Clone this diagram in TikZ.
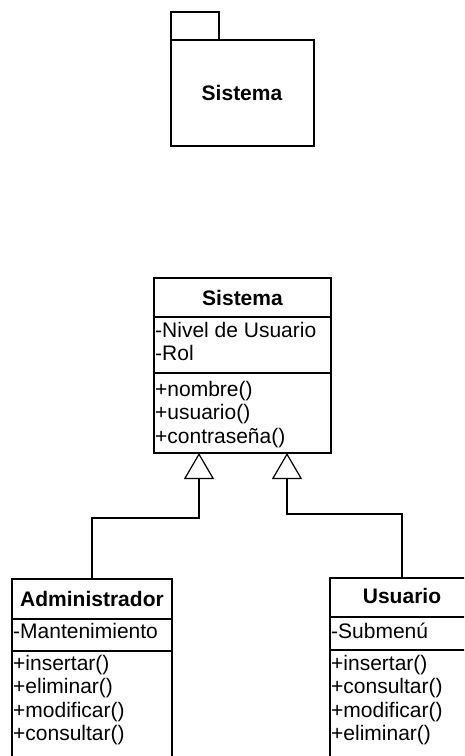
\documentclass[tikz,border=0pt]{standalone}
\usepackage{fontspec}
\setmainfont{Liberation Sans}
\usetikzlibrary{arrows.meta}
\tikzset{
  box/.style={draw, line width=1.3pt, inner sep=0pt, outer sep=0pt},
  txt/.style={inner sep=0pt, anchor=base west, font=\fontsize{21}{23.5}\selectfont},
  ttl/.style={inner sep=0pt, anchor=base, font=\fontsize{21}{23.5}\selectfont\bfseries},
  ln/.style={line width=1.3pt},
  gen/.style={line width=1.2pt, -{Triangle[open, length=26pt, width=30pt, line width=1.2pt]}}
}
\begin{document}
\begin{tikzpicture}[x=1pt, y=-1pt]
\useasboundingbox (0,0) rectangle (464,756);
\clip (0,0) rectangle (464,756);
% package
\node[box, minimum width=48, minimum height=28, anchor=south west] (tab) at (171,40) {};
\node[box, minimum width=143, minimum height=106, anchor=north west] (pkg) at (171,40) {};
\node[ttl] (pkgname) at (242,100) {Sistema};
% Sistema class
\node[box, minimum width=177, minimum height=175, anchor=north west] (sis) at (154,278) {};
\node[ttl] (sist) at (242.5,305) {Sistema};
\draw[ln] (sis.west |- 0,317) -- (sis.east |- 0,317);
\draw[ln] (sis.west |- 0,373) -- (sis.east |- 0,373);
\node[txt] (sa1) at (155,337) {-Nivel de Usuario};
\node[txt] (sa2) at (155,360.5) {-Rol};
\node[txt] (so1) at (155,396) {+nombre()};
\node[txt] (so2) at (155,419.5) {+usuario()};
\node[txt] (so3) at (155,443) {+contraseña()};
% Administrador
\node[box, minimum width=160, minimum height=220, anchor=north west] (adm) at (12,579) {};
\node[ttl] (admt) at (92,606) {Administrador};
\draw[ln] (adm.west |- 0,619) -- (adm.east |- 0,619);
\draw[ln] (adm.west |- 0,651) -- (adm.east |- 0,651);
\node[txt] (aa1) at (13,638) {-Mantenimiento};
\node[txt] (ao1) at (13,670) {+insertar()};
\node[txt] (ao2) at (13,693.5) {+eliminar()};
\node[txt] (ao3) at (13,717) {+modificar()};
\node[txt] (ao4) at (13,740.5) {+consultar()};
% Usuario
\node[box, minimum width=144, minimum height=220, anchor=north west] (usr) at (330,578) {};
\node[ttl] (usrt) at (402,603) {Usuario};
\draw[ln] (usr.west |- 0,617) -- (usr.east |- 0,617);
\draw[ln] (usr.west |- 0,650) -- (usr.east |- 0,650);
\node[txt] (ua1) at (331,638) {-Submenú};
\node[txt] (uo1) at (331,670) {+insertar()};
\node[txt] (uo2) at (331,693.5) {+consultar()};
\node[txt] (uo3) at (331,717) {+modificar()};
\node[txt] (uo4) at (331,740.5) {+eliminar()};
% generalizations
\coordinate (lb) at (199,518);
\coordinate (rb) at (287,514);
\draw[gen] (adm.north) |- (lb) -- (lb |- sis.south);
\draw[gen] (usr.north) |- (rb) -- (rb |- sis.south);
\end{tikzpicture}
\end{document}
